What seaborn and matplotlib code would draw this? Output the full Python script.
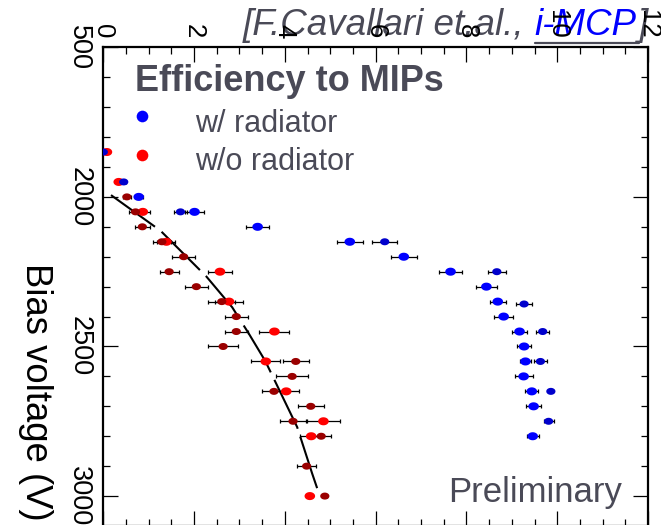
import numpy as np
import pandas as pd
import matplotlib
matplotlib.use("Agg")
import matplotlib.pyplot as plt
from matplotlib.lines import Line2D
from matplotlib.ticker import MultipleLocator
import seaborn as sns

# ---------------- data ----------------
# w/o radiator, run 1 (bright red)
red_v = [1850, 1950, 2050, 2150, 2250, 2350, 2450, 2550, 2650, 2750, 2800, 3000]
red_eff = [0.08, 0.34, 0.87, 1.39, 2.57, 2.77, 3.77, 3.58, 4.03, 4.85, 4.58, 4.55]
red_err = [0.00, 0.06, 0.15, 0.20, 0.26, 0.30, 0.33, 0.32, 0.28, 0.37, 0.25, 0.05]

# w/o radiator, run 2 (dark red)
dred_v = [2000, 2050, 2100, 2150, 2200, 2250, 2300, 2350, 2400, 2450, 2500,
          2550, 2600, 2650, 2700, 2750, 2800, 2900, 3000]
dred_eff = [0.52, 0.71, 0.86, 1.29, 1.77, 1.45, 2.05, 2.61, 2.93, 2.93, 2.64,
            4.24, 4.16, 3.76, 4.57, 4.18, 4.80, 4.48, 4.88]
dred_err = [0.08, 0.15, 0.17, 0.20, 0.26, 0.21, 0.25, 0.30, 0.25, 0.25, 0.33,
            0.29, 0.35, 0.26, 0.29, 0.29, 0.21, 0.21, 0.05]

# w/ radiator, run 1 (bright blue)
blue_v = [2000, 2050, 2100, 2150, 2200, 2250, 2300, 2350, 2400, 2450, 2500,
          2550, 2600, 2650, 2700, 2800]
blue_eff = [0.78, 2.01, 3.40, 5.43, 6.62, 7.65, 8.44, 8.69, 8.82, 9.17, 9.27,
            9.30, 9.26, 9.44, 9.48, 9.46]
blue_err = [0.09, 0.20, 0.25, 0.29, 0.29, 0.25, 0.24, 0.18, 0.21, 0.17, 0.15,
            0.13, 0.20, 0.14, 0.17, 0.13]

# w/ radiator, run 2 (dark blue)
dblue_v = [1850, 1950, 2050, 2150, 2250, 2358, 2450, 2550, 2650, 2750]
dblue_eff = [0.00, 0.45, 1.70, 6.20, 8.67, 9.27, 9.68, 9.63, 9.86, 9.81]
dblue_err = [0.00, 0.06, 0.15, 0.28, 0.20, 0.18, 0.14, 0.14, 0.04, 0.11]

# dashed fit curve
fit_v = [1994, 2113, 2266, 2369, 2458, 2549, 2769, 2924, 2991]
fit_eff = [0.17, 1.26, 2.27, 2.84, 3.21, 3.57, 4.27, 4.60, 4.75]

x_ticks = [0, 2, 4, 6, 8, 10, 12]
y_ticks = [1500, 2000, 2500, 3000]
y_ticklabels = ["500", "2000", "2500", "3000"]

title = "Efficiency to MIPs"
labels = ["w/ radiator", "w/o radiator"]

# ---------------- styling ----------------
sns.set_theme(style="ticks")
plt.rcParams["font.family"] = ["Liberation Sans", "DejaVu Sans"]
gray = "#4a4a57"

W_PX, H_PX = 661, 525
fig = plt.figure(figsize=(W_PX / 100, H_PX / 100), dpi=100)
fig.patch.set_facecolor("white")
ax = fig.add_axes([103.3 / W_PX, -1.0 / H_PX, (648 - 103.3) / W_PX, (526 - 47.3) / H_PX])
ax.set_facecolor("white")

# ellipse marker (ROOT markers appear slightly squashed)
t = np.linspace(0, 2 * np.pi, 60)
ell = np.column_stack([np.cos(t), 0.76 * np.sin(t)])

groups = [
    (red_v, red_eff, red_err, "#ff0000", 58),
    (dred_v, dred_eff, dred_err, "#9a0000", 44),
    (blue_v, blue_eff, blue_err, "#0000ff", 58),
    (dblue_v, dblue_eff, dblue_err, "#0000cc", 44),
]

for v, e, err, col, s in groups:
    ax.errorbar(e, v, xerr=err, fmt="none", ecolor="black", elinewidth=0.9,
                capsize=1.3, capthick=0.9, zorder=2)

fit_df = pd.DataFrame({"eff": fit_eff, "v": fit_v})
ax.plot(fit_df["eff"], fit_df["v"], color="black", lw=1.5, dashes=(26, 4),
        zorder=2.5)

for i, (v, e, err, col, s) in enumerate(groups):
    df = pd.DataFrame({"eff": e, "v": v})
    sns.scatterplot(data=df, x="eff", y="v", ax=ax, color=col, s=s,
                    marker=ell, edgecolor="none", linewidth=0, zorder=3 + i * 0.1,
                    legend=False)

ax.set_xlim(0, 12)
ax.set_ylim(3100, 1504)
ax.set_xlabel("")
ax.set_ylabel("")

for sp in ax.spines.values():
    sp.set_visible(True)
    sp.set_color("black")
    sp.set_linewidth(1.6)

ax.set_xticks(x_ticks)
ax.set_xticklabels([str(v) for v in x_ticks], rotation=-90, fontsize=18.5,
                   color="black")
ax.xaxis.set_minor_locator(MultipleLocator(0.5))
ax.xaxis.set_ticks_position("both")
ax.tick_params(axis="x", which="both", direction="in", top=True, bottom=True,
               labeltop=True, labelbottom=False, pad=6.5)
for lab in ax.get_xticklabels():
    lab.set_va("bottom")
    lab.set_ha("center")

ax.set_yticks(y_ticks)
ax.set_yticklabels(y_ticklabels, rotation=-90, fontsize=19.5, color="black")
ax.yaxis.set_minor_locator(MultipleLocator(100))
ax.yaxis.set_ticks_position("both")
ax.tick_params(axis="y", which="both", direction="in", left=True, right=True,
               labelleft=True, labelright=False, pad=8)
for lab in ax.get_yticklabels():
    lab.set_va("center")
    lab.set_ha("right")

ax.tick_params(which="major", length=10.8, width=0.9, color="black")
ax.tick_params(which="minor", length=5.0, width=0.9, color="black")

# axis title (rotated like the rest of the chart)
fig.text(35 / W_PX, 1 - 392 / H_PX, "Bias voltage (V)", rotation=-90,
         ha="center", va="center", fontsize=26.3, color="black")

# legend drawn by hand
fig.text(135 / W_PX, 1 - 91 / H_PX, title, fontsize=26, fontweight="bold",
         color=gray, ha="left", va="baseline")
leg_cols = ["#0000ff", "#ff0000"]
leg_y = [116, 155]
leg_base = [131.7, 170]
for lab, c, yy, yb in zip(labels, leg_cols, leg_y, leg_base):
    fig.add_artist(Line2D([141.7 / W_PX], [1 - yy / H_PX], marker="o",
                          markersize=8.4, color=c, markeredgewidth=0,
                          linestyle="none", transform=fig.transFigure))
    fig.text(195 / W_PX, 1 - yb / H_PX, lab, fontsize=22, color=gray,
             ha="left", va="baseline")

fig.text(622 / W_PX, 1 - 501.7 / H_PX, "Preliminary", fontsize=25,
         color=gray, ha="right", va="baseline")

# citation in the top right corner
fig.canvas.draw()
r = fig.canvas.get_renderer()
Wf, Hf = fig.bbox.width, fig.bbox.height
yb = 1 - 35 / H_PX
cfs = 26.5
t3 = fig.text(647 / W_PX, yb, "]", ha="right", va="baseline", style="italic",
              color=gray, fontsize=cfs, zorder=-1)
bb3 = t3.get_window_extent(r)
t2 = fig.text(bb3.x0 / Wf, yb, "i-MCP", ha="right", va="baseline",
              style="italic", color="#0000ff", fontsize=cfs, zorder=-1)
bb2 = t2.get_window_extent(r)
space = 0.278 * cfs * 100 / 72
t1 = fig.text((bb2.x0 - space) / Wf, yb, "[F.Cavallari et.al.,", ha="right",
              va="baseline", style="italic", color=gray, fontsize=cfs, zorder=-1)
uy = 1 - 42.7 / H_PX
fig.add_artist(Line2D([bb2.x0 / Wf, (bb2.x1 + 2) / Wf], [uy, uy], color=gray,
                      lw=1.6, transform=fig.transFigure, zorder=-1))

fig.savefig("out.png", dpi=100)
